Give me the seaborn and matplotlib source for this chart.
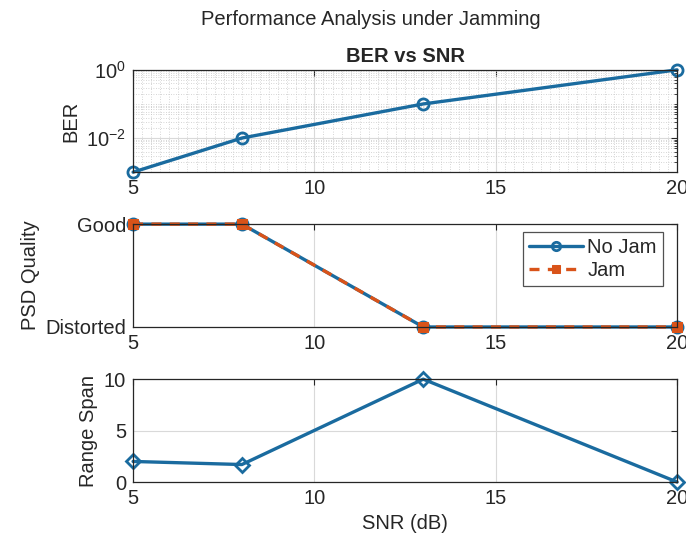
import numpy as np
import pandas as pd
import matplotlib
matplotlib.use("Agg")
import matplotlib.pyplot as plt
from matplotlib.ticker import FixedLocator, MultipleLocator, LogLocator, NullFormatter
import seaborn as sns

snr = [5, 8, 13, 20]
ber = [1e-3, 1e-2, 1e-1, 1.0]
psd_nojam = [1, 1, 0, 0]
psd_jam = [1, 1, 0, 0]
range_span = [2.0, 1.7, 10.0, 0.0]
psd_labels = ["Distorted", "Good"]

sns.set_style("white")
plt.rcParams['font.family'] = ['Liberation Sans', 'DejaVu Sans']
FS = 14.5
plt.rcParams['font.size'] = FS

BLUE = "#1a6b9f"
ORANGE = "#D95319"

fig = plt.figure(figsize=(6.86, 5.5), dpi=100)
L, W = 0.194, 0.793
ax1 = fig.add_axes([L, 0.687, W, 0.186])
ax2 = fig.add_axes([L, 0.4055, W, 0.187])
ax3 = fig.add_axes([L, 0.1236, W, 0.187])

def style(ax):
    for s in ax.spines.values():
        s.set_color("#262626")
        s.set_linewidth(0.9)
    ax.tick_params(axis="both", which="major", direction="in", length=4,
                   color="#262626", labelsize=FS, labelcolor="#262626",
                   top=True, right=True, pad=5)
    ax.tick_params(axis="both", which="minor", direction="in", length=2,
                   color="#262626", top=True, right=True)
    ax.set_xlim(5, 20)
    ax.xaxis.set_major_locator(FixedLocator([5, 10, 15, 20]))
    ax.grid(True, which="major", color="#d9d9d9", linewidth=0.8)
    ax.set_axisbelow(True)

# Top: BER
df1 = pd.DataFrame({"SNR": snr, "BER": ber})
sns.lineplot(data=df1, x="SNR", y="BER", ax=ax1, color=BLUE, linewidth=2.4,
             marker="o", markersize=8, markerfacecolor="none",
             markeredgecolor=BLUE, markeredgewidth=2, clip_on=False)
ax1.set_yscale("log")
ax1.set_ylim(1e-3, 1)
style(ax1)
ax1.yaxis.set_major_locator(FixedLocator([1e-2, 1e0]))
ax1.yaxis.set_minor_locator(LogLocator(base=10, subs=np.arange(1, 10) * 1.0, numticks=20))
ax1.yaxis.set_minor_formatter(NullFormatter())
ax1.xaxis.set_minor_locator(MultipleLocator(0.25))
ax1.grid(True, which="minor", color="#c8c8c8", linewidth=0.6, linestyle=(0, (1, 2)))
ax1.tick_params(axis="x", which="minor", length=0)
ax1.set_xlabel("")
ax1.set_ylabel("BER", fontsize=FS)
ax1.set_title("BER vs SNR", fontsize=FS, fontweight="bold", pad=6)

# Middle: PSD quality
df2 = pd.DataFrame({"SNR": snr + snr,
                    "Q": psd_nojam + psd_jam,
                    "Case": ["No Jam"] * len(snr) + ["Jam"] * len(snr)})
sns.lineplot(data=df2[df2.Case == "No Jam"], x="SNR", y="Q", ax=ax2, color=BLUE,
             linewidth=2.4, marker="o", markersize=8, markerfacecolor="none",
             markeredgecolor=BLUE, markeredgewidth=2, label="No Jam", clip_on=False)
sns.lineplot(data=df2[df2.Case == "Jam"], x="SNR", y="Q", ax=ax2, color=ORANGE,
             linewidth=2.4, linestyle=(0, (3.0, 2.5)), marker="s", markersize=7,
             markerfacecolor=ORANGE, markeredgecolor=ORANGE, label="Jam", clip_on=False)
ax2.set_ylim(0, 1)
style(ax2)
ax2.yaxis.set_major_locator(FixedLocator([0, 1]))
ax2.set_yticklabels(psd_labels)
ax2.set_xlabel("")
ax2.set_ylabel("PSD Quality", fontsize=FS)
leg = ax2.legend(loc="upper right", bbox_to_anchor=(0.974, 0.922), fontsize=FS,
                 frameon=True, fancybox=False, edgecolor="#262626",
                 handlelength=2.7, handletextpad=0.2, borderpad=0.3,
                 labelspacing=0.2, borderaxespad=0.0, markerscale=0.75)
leg.get_frame().set_linewidth(0.9)

# Bottom: Range span
df3 = pd.DataFrame({"SNR": snr, "Range": range_span})
sns.lineplot(data=df3, x="SNR", y="Range", ax=ax3, color=BLUE, linewidth=2.4,
             marker="D", markersize=7, markerfacecolor="none",
             markeredgecolor=BLUE, markeredgewidth=2, clip_on=False)
ax3.set_ylim(0, 10)
style(ax3)
ax3.yaxis.set_major_locator(FixedLocator([0, 5, 10]))
ax3.set_xlabel("SNR (dB)", fontsize=FS)
ax3.set_ylabel("Range Span", fontsize=FS)

fig.suptitle("Performance Analysis under Jamming", fontsize=FS, x=0.54, y=0.982)

fig.savefig("out.png", dpi=100)
